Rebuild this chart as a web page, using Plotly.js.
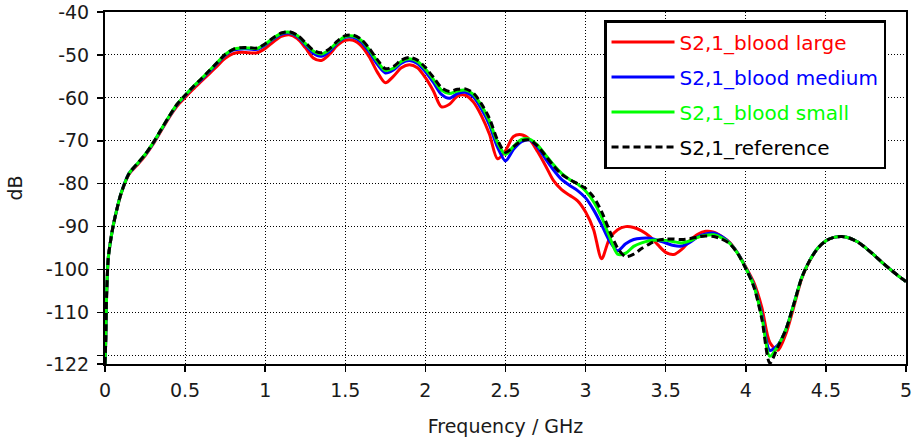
<!DOCTYPE html>
<html>
<head>
<meta charset="utf-8">
<script src="https://cdn.plot.ly/plotly-3.0.1.min.js"></script>
<style>html,body{margin:0;padding:0;background:#fff;}#chart{width:919px;height:443px;}</style>
</head>
<body>
<div id="chart"></div>
<script>
const FREQ = [0, 0.005, 0.01, 0.02, 0.03, 0.05, 0.075, 0.1, 0.15,
  0.2, 0.25, 0.3, 0.35, 0.4, 0.45, 0.5, 0.55, 0.6, 0.65, 0.7, 0.75, 0.8, 0.85, 0.9, 0.95,
  1.0, 1.05, 1.1, 1.15, 1.2, 1.25, 1.3, 1.35, 1.4, 1.45, 1.5, 1.55, 1.6, 1.65, 1.7, 1.75, 1.8, 1.85, 1.9, 1.95,
  2.0, 2.05, 2.1, 2.15, 2.2, 2.25, 2.3, 2.35, 2.4, 2.45, 2.5, 2.55, 2.6, 2.65, 2.7, 2.75, 2.8, 2.85, 2.9, 2.95,
  3.0, 3.05, 3.1, 3.15, 3.2, 3.25, 3.3, 3.35, 3.4, 3.45, 3.5, 3.55, 3.6, 3.65, 3.7, 3.75, 3.8, 3.85, 3.9, 3.95,
  4.0, 4.05, 4.1, 4.15, 4.2, 4.25, 4.3, 4.35, 4.4, 4.45, 4.5, 4.55, 4.6, 4.65, 4.7, 4.75, 4.8, 4.85, 4.9, 4.95, 5.0];

const S21_LARGE = [-122, -116, -106, -97.5, -94.5, -90, -85.9, -82.4, -77.8,
  -75.7, -73.5, -70.8, -67.7, -64.6, -61.9, -59.9, -58, -56.2, -54.4, -52.6, -50.8, -49.7, -49.4, -49.5, -49.5,
  -48.5, -47, -45.7, -45.3, -46.2, -48.3, -50.7, -51.3, -49.9, -47.8, -46.6, -46.6, -47.9, -50.5, -54, -56.5, -55, -53, -52.3, -53,
  -55.3, -58.4, -62.1, -61.5, -59.6, -59.4, -61, -64.2, -68.5, -74.2, -72.3, -69, -68.6, -69.7, -72.5, -75.8, -79.3, -81.4, -82.7, -84,
  -86.6, -90.7, -97.5, -92.7, -90.7, -90, -90.2, -91, -92.3, -94.2, -96, -96.5, -95.3, -93.3, -91.8, -91.1, -91.3, -92.3, -93.7, -96.2,
  -99.4, -103, -108.8, -117, -118.8, -115, -108.6, -102, -97.9, -95, -93.3, -92.5, -92.3, -92.7, -93.6, -95, -96.6, -98.3, -99.9, -101.4, -102.8];

const S21_MEDIUM = [-122, -116, -106, -97.5, -94.5, -90, -85.8, -82.3, -77.6,
  -75.5, -73.3, -70.6, -67.5, -64.4, -61.6, -59.5, -57.5, -55.8, -53.9, -52, -50.1, -48.9, -48.6, -48.6, -48.7,
  -47.7, -46.3, -45.2, -44.9, -45.7, -47.6, -49.6, -50.3, -49.2, -47.2, -45.9, -45.9, -47, -49.3, -52.2, -54.2, -53.5, -51.9, -51.3, -52,
  -53.9, -56.4, -59.2, -60.1, -59, -58.7, -59.8, -62.6, -66.3, -71.5, -74.7, -72, -70.2, -69.8, -71.5, -74.2, -76.8, -79, -80.4, -81.6,
  -83.3, -86.1, -89.6, -93.4, -95.6, -94, -93, -92.7, -92.7, -93.2, -93.8, -94.4, -94.5, -93.7, -92.4, -91.7, -91.5, -92.3, -93.8, -96.2,
  -99.6, -103.6, -110.5, -118.8, -117.6, -114, -108, -101.8, -97.8, -95, -93.3, -92.5, -92.3, -92.7, -93.6, -95, -96.6, -98.3, -99.9, -101.4, -102.8];

const S21_SMALL = [-122, -116, -106, -97.5, -94.5, -90, -85.8, -82.3, -77.6,
  -75.4, -73.2, -70.5, -67.4, -64.3, -61.5, -59.4, -57.4, -55.6, -53.7, -51.8, -49.9, -48.7, -48.4, -48.4, -48.5,
  -47.5, -46.1, -45, -44.7, -45.5, -47.3, -49.1, -49.8, -48.8, -47, -45.7, -45.6, -46.6, -48.8, -51.5, -53.6, -53.1, -51.5, -50.9, -51.5,
  -53.3, -55.7, -58.2, -59, -58.4, -58.2, -59.2, -61.8, -65.4, -70.4, -73.2, -71.3, -69.7, -69.6, -71, -73.3, -75.6, -77.6, -79, -80.1,
  -81.7, -84.2, -87.8, -92.4, -96.4, -96.2, -94.6, -93.8, -93.3, -93.1, -93.2, -93.5, -93.8, -93.3, -92.5, -92, -91.9, -92.6, -93.9, -96.3,
  -99.7, -103.8, -111, -120.2, -117.8, -114, -108, -101.8, -97.8, -95, -93.3, -92.5, -92.3, -92.7, -93.6, -95, -96.6, -98.3, -99.9, -101.4, -102.8];

const S21_REFERENCE = [-122, -116, -106, -97.5, -94.5, -90, -85.8, -82.3, -77.6,
  -75.4, -73.2, -70.5, -67.4, -64.3, -61.5, -59.4, -57.4, -55.6, -53.7, -51.8, -49.9, -48.7, -48.3, -48.3, -48.4,
  -47.4, -46, -44.9, -44.6, -45.4, -47.1, -48.9, -49.5, -48.6, -46.8, -45.5, -45.4, -46.4, -48.5, -51.1, -53.2, -52.7, -51.2, -50.6, -51.2,
  -52.9, -55.2, -57.6, -58.5, -58, -57.9, -58.9, -61.4, -64.8, -69.8, -72.7, -71.4, -70, -69.8, -71.2, -73.5, -75.8, -77.8, -79, -80,
  -81.1, -83.1, -86.5, -91, -95, -97, -96.4, -95.1, -94, -93.2, -92.9, -92.9, -93, -92.8, -92.4, -92.2, -92.3, -92.9, -94, -96.3,
  -99.8, -104, -111.5, -121.8, -118, -114, -108, -101.8, -97.8, -95, -93.3, -92.5, -92.3, -92.7, -93.6, -95, -96.6, -98.3, -99.9, -101.4, -102.8];

const SERIES_NAMES = ['S2,1_blood large', 'S2,1_blood medium', 'S2,1_blood small', 'S2,1_reference'];
const Y_TICKS = [-40, -50, -60, -70, -80, -90, -100, -110, -120, -122];
const Y_TICK_TEXT = ['-40', '-50', '-60', '-70', '-80', '-90', '-100', '-110', '', '-122'];
const X_TICKS = [0, 0.5, 1, 1.5, 2, 2.5, 3, 3.5, 4, 4.5, 5];
const X_TICK_TEXT = ['0', '0.5', '1', '1.5', '2', '2.5', '3', '3.5', '4', '4.5', '5'];

const COLORS = ['#ff0000', '#0000ff', '#00ff00', '#000000'];
const VALUES = [S21_LARGE, S21_MEDIUM, S21_SMALL, S21_REFERENCE];

const traces = VALUES.map((v, i) => ({
  x: FREQ, y: v, type: 'scatter', mode: 'lines',
  name: '<span style="color:' + COLORS[i] + '">' + SERIES_NAMES[i] + '</span>',
  legendgroup: 'g' + i,
  line: {color: COLORS[i], width: 3, shape: 'spline', smoothing: 0.8, dash: i === 3 ? '7px,4px' : 'solid'}
}));

const FONT = 'DejaVu Sans, Verdana, sans-serif';
const layout = {
  width: 919, height: 443,
  margin: {l: 105, r: 13, t: 12, b: 79},
  paper_bgcolor: '#fff', plot_bgcolor: '#fff',
  font: {family: FONT, size: 19, color: '#1a1a1a'},
  showlegend: true,
  legend: {
    x: 0.623, y: 0.977, xanchor: 'left', yanchor: 'top',
    bgcolor: '#fff', bordercolor: '#000', borderwidth: 2.5,
    font: {family: FONT, size: 20},
    itemwidth: 63, tracegroupgap: 6, traceorder: 'grouped'
  },
  xaxis: {
    range: [0, 5], tickvals: X_TICKS, ticktext: X_TICK_TEXT,
    showgrid: true, gridcolor: '#000', griddash: '1px,2px', gridwidth: 1,
    showline: true, linecolor: '#000', linewidth: 2, mirror: true,
    ticks: 'outside', ticklen: 6, tickwidth: 1.5, tickcolor: '#000',
    ticklabelstandoff: 2,
    zeroline: false,
    title: {text: 'Frequency / GHz', font: {family: FONT, size: 19, color: '#1a1a1a'}, standoff: 20}
  },
  yaxis: {
    range: [-122, -40], tickvals: Y_TICKS, ticktext: Y_TICK_TEXT,
    showgrid: true, gridcolor: '#000', griddash: '1px,2px', gridwidth: 1,
    showline: true, linecolor: '#000', linewidth: 2, mirror: true,
    ticks: 'outside', ticklen: 6, tickwidth: 1.5, tickcolor: '#000',
    ticklabelstandoff: 4,
    zeroline: false,
    title: {text: 'dB', font: {family: FONT, size: 19, color: '#1a1a1a'}, standoff: 18}
  }
};

Plotly.newPlot('chart', traces, layout, {displayModeBar: false, staticPlot: true});
</script>
</body>
</html>
